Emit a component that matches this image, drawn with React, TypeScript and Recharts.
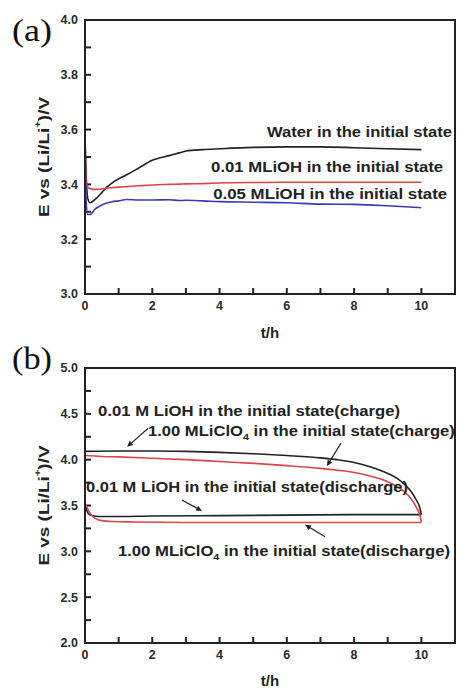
import React from "react";
import {
  LineChart,
  Line,
  XAxis,
  YAxis,
  ReferenceArea,
  ReferenceDot,
  ReferenceLine,
  Label,
} from "recharts";

// ---------- Panel (a) data ----------
const tA = [0, 0.03, 0.08, 0.15, 0.3, 0.5, 0.64, 0.8, 1.0, 1.24, 1.6, 2.0, 2.5, 2.8, 3.0, 3.5, 4, 5, 6, 7, 8, 9, 10];
const waterA = [3.58, 3.45, 3.35, 3.333, 3.345, 3.37, 3.389, 3.405, 3.42, 3.435, 3.46, 3.488, 3.505, 3.515, 3.522, 3.527, 3.53, 3.535, 3.537, 3.537, 3.534, 3.53, 3.527];
const lioh001A = [3.575, 3.42, 3.39, 3.385, 3.382, 3.383, 3.386, 3.388, 3.39, 3.392, 3.395, 3.398, 3.4, 3.401, 3.402, 3.403, 3.405, 3.407, 3.408, 3.408, 3.408, 3.408, 3.408];
const lioh005A = [3.56, 3.35, 3.29, 3.29, 3.31, 3.325, 3.332, 3.337, 3.34, 3.345, 3.343, 3.343, 3.344, 3.341, 3.342, 3.34, 3.337, 3.335, 3.333, 3.328, 3.327, 3.322, 3.315];

// ---------- Panel (b) data ----------
const tChargeLiOH = [0, 1, 2, 3, 4, 5, 6, 7, 7.5, 8, 8.5, 9, 9.3, 9.5, 9.7, 9.85, 9.95, 10];
const eChargeLiOH = [4.09, 4.095, 4.095, 4.09, 4.08, 4.065, 4.045, 4.02, 4.0, 3.97, 3.92, 3.85, 3.79, 3.73, 3.65, 3.56, 3.48, 3.4];
const tDischargeLiOH = [0, 0.05, 0.1, 0.2, 0.4, 1, 2, 4, 6, 8, 10];
const eDischargeLiOH = [3.52, 3.45, 3.41, 3.39, 3.38, 3.38, 3.385, 3.39, 3.395, 3.4, 3.4];
const tChargeClO4 = [0, 0.5, 1, 2, 3, 4, 5, 6, 7, 7.5, 8, 8.5, 9, 9.3, 9.5, 9.7, 9.85, 9.95, 10];
const eChargeClO4 = [4.045, 4.035, 4.03, 4.015, 4.0, 3.98, 3.96, 3.935, 3.905, 3.885, 3.86, 3.82, 3.76, 3.7, 3.65, 3.57, 3.48, 3.4, 3.32];
const tDischargeClO4 = [0, 0.1, 0.2, 0.3, 0.5, 0.8, 1.5, 3, 6, 10];
const eDischargeClO4 = [3.53, 3.45, 3.39, 3.36, 3.335, 3.325, 3.32, 3.315, 3.315, 3.315];

// ---------- Axes ----------
const xTicks = [0, 1, 2, 3, 4, 5, 6, 7, 8, 9, 10];
const xTickLabels = ["0", "", "2", "", "4", "", "6", "", "8", "", "10"];
const yTicksA = [3.0, 3.1, 3.2, 3.3, 3.4, 3.5, 3.6, 3.7, 3.8, 3.9, 4.0];
const yTickLabelsA = ["3.0", "", "3.2", "", "3.4", "", "3.6", "", "3.8", "", "4.0"];
const yTicksB = [2.0, 2.25, 2.5, 2.75, 3.0, 3.25, 3.5, 3.75, 4.0, 4.25, 4.5, 4.75, 5.0];
const yTickLabelsB = ["2.0", "", "2.5", "", "3.0", "", "3.5", "", "4.0", "", "4.5", "", "5.0"];

// ---------- Annotations ----------
const annotationsA = [
  { text: "Water in the initial state", t: 5.41, E: 3.591, len: 185 },
  { text: "0.01 MLiOH in the initial state", t: 3.75, E: 3.4635, len: 232 },
  { text: "0.05 MLiOH in the initial state", t: 3.81, E: 3.365, len: 234 },
];
const annotationsB = [
  { text: "0.01 M LiOH in the initial state(charge)", t: 0.39, E: 4.534, len: 302 },
  { text: "1.00 MLiClO_4 in the initial state(charge)", t: 1.87, E: 4.316, len: 307 },
  { text: "0.01 M LiOH in the initial state(discharge)", t: 0.03, E: 3.705, len: 322 },
  { text: "1.00 MLiClO_4 in the initial state(discharge)", t: 0.98, E: 3.007, len: 332 },
];
const arrowsB = [
  { from: [1.87, 4.34], to: [1.25, 4.14] },
  { from: [7.61, 4.18], to: [7.19, 3.93] },
  { from: [2.88, 3.56], to: [3.48, 3.44] },
  { from: [7.14, 3.16], to: [6.54, 3.29] },
];

const FONT = '"Liberation Sans", Arial, sans-serif';
const INK = "#222";
const RED = "#dd4448";
const BLUE = "#3a3ab8";
const X_MAX = 11;
const TICK_PX = 5;

const toPoints = (ts: number[], es: number[]) => ts.map((t, i) => ({ t, E: es[i] }));

const renderParts = (text: string) => {
  const segs = text.split("_4");
  const out: any[] = [];
  segs.forEach((s, i) => {
    out.push(<tspan key={"s" + i} dy={i > 0 ? -4 : 0}>{s}</tspan>);
    if (i < segs.length - 1) {
      out.push(
        <tspan key={"sub" + i} dy={4} fontSize={9}>
          4
        </tspan>
      );
    }
  });
  return out;
};

const makeTextShape = (text: string, len: number) => (props: any) => {
  const { cx, cy } = props;
  if (cx == null || cy == null) return null;
  return (
    <text
      x={cx}
      y={cy + 5}
      fill={INK}
      fontFamily={FONT}
      fontWeight="bold"
      fontSize={14}
      textLength={len}
      lengthAdjust="spacingAndGlyphs"
    >
      {renderParts(text)}
    </text>
  );
};

const ArrowShape = (p: any) => {
  const { x1, y1, x2, y2 } = p;
  if ([x1, y1, x2, y2].some((v) => v == null || isNaN(v))) return null;
  const ang = Math.atan2(y2 - y1, x2 - x1);
  const L = 6;
  const W = 2.8;
  const c = Math.cos(ang);
  const s = Math.sin(ang);
  const bx = x2 - L * c;
  const by = y2 - L * s;
  return (
    <g>
      <line x1={x1} y1={y1} x2={bx} y2={by} stroke={INK} strokeWidth={1.2} />
      <polygon
        points={`${x2},${y2} ${bx + W * s},${by - W * c} ${bx - W * s},${by + W * c}`}
        fill={INK}
      />
    </g>
  );
};

// Tick marks: a short stub (as a thin filled rectangle) at the axis end of each tick's reference line
const XTickStub = (p: any) => {
  const { x1, y1, x2, y2 } = p;
  if ([x1, y1, x2, y2].some((v) => v == null || isNaN(v))) return null;
  const yb = Math.max(y1, y2);
  return <rect x={x1 - 1} y={yb - TICK_PX - 1} width={2} height={TICK_PX + 1} fill={INK} />;
};
const YTickStub = (p: any) => {
  const { x1, y1, x2, y2 } = p;
  if ([x1, y1, x2, y2].some((v) => v == null || isNaN(v))) return null;
  const xl = Math.min(x1, x2);
  return <rect x={xl} y={y1 - 1} width={TICK_PX + 1} height={2} fill={INK} />;
};

const tickStyle = { fill: "#2a2a2a", fontSize: 12.5, fontWeight: "bold", fontFamily: FONT };

const YTitle = (props: any) => {
  const vb = props.viewBox || {};
  const cx = (vb.x ?? 0) + 43;
  const cy = (vb.y ?? 0) + (vb.height ?? 0) / 2;
  return (
    <text
      transform={`translate(${cx},${cy}) rotate(-90)`}
      x={0}
      y={0}
      textAnchor="middle"
      dominantBaseline="central"
      fill={INK}
      fontFamily={FONT}
      fontWeight="bold"
      fontSize={15}
      textLength={120}
      lengthAdjust="spacingAndGlyphs"
    >
      <tspan>E vs (Li/Li</tspan>
      <tspan dy={-5} fontSize={9}>+</tspan>
      <tspan dy={5}>)/V</tspan>
    </text>
  );
};

const makeXTitle = (offset: number) => (props: any) => {
  const vb = props.viewBox || {};
  const cx = (vb.x ?? 0) + (vb.width ?? 0) / 2;
  const cy = (vb.y ?? 0) + offset;
  return (
    <text
      x={cx}
      y={cy}
      textAnchor="middle"
      dominantBaseline="central"
      fill={INK}
      fontFamily={FONT}
      fontWeight="bold"
      fontSize={15}
    >
      t/h
    </text>
  );
};

const PanelWrap = (props: any) => {
  const { height, top, axisH, xTitleOffset, yDomain, yTicks, yTickLabels, series, annotations, arrows } = props;
  return (
    <LineChart width={457} height={height} margin={{ top, right: 2, bottom: 0, left: 0 }}>
      <XAxis
        type="number"
        dataKey="t"
        domain={[0, X_MAX]}
        allowDataOverflow
        ticks={xTicks}
        interval={0}
        tickFormatter={(v: any, i: number) => xTickLabels[i] ?? ""}
        tickSize={0}
        tickMargin={7}
        tickLine={false}
        height={axisH}
        axisLine={{ stroke: INK, strokeWidth: 2 }}
        tick={tickStyle}
      >
        <Label content={makeXTitle(xTitleOffset)} />
      </XAxis>
      <YAxis
        type="number"
        domain={yDomain}
        allowDataOverflow
        ticks={yTicks}
        interval={0}
        tickFormatter={(v: any, i: number) => yTickLabels[i] ?? ""}
        tickSize={0}
        tickMargin={7}
        tickLine={false}
        width={85}
        axisLine={{ stroke: INK, strokeWidth: 2 }}
        tick={tickStyle}
      >
        <Label content={YTitle} />
      </YAxis>
      <ReferenceArea
        x1={0}
        x2={X_MAX}
        y1={yDomain[0]}
        y2={yDomain[1]}
        fill="none"
        fillOpacity={0}
        stroke={INK}
        strokeWidth={2}
      />
      {xTicks.map((t: number) => (
        <ReferenceLine key={"xt" + t} x={t} shape={XTickStub} />
      ))}
      {yTicks.map((v: number) => (
        <ReferenceLine key={"yt" + v} y={v} shape={YTickStub} />
      ))}
      {series.map((s: any, i: number) => (
        <Line
          key={i}
          data={s.data}
          dataKey="E"
          type="monotone"
          dot={false}
          activeDot={false}
          stroke={s.color}
          strokeWidth={1.6}
          isAnimationActive={false}
        />
      ))}
      {annotations.map((a: any, i: number) => (
        <ReferenceDot key={"a" + i} x={a.t} y={a.E} r={0} shape={makeTextShape(a.text, a.len)} />
      ))}
      {arrows.map((a: any, i: number) => (
        <ReferenceLine
          key={"r" + i}
          segment={[
            { x: a.from[0], y: a.from[1] },
            { x: a.to[0], y: a.to[1] },
          ]}
          shape={ArrowShape}
        />
      ))}
    </LineChart>
  );
};

export default function App() {
  const seriesA = [
    { data: toPoints(tA, waterA), color: INK },
    { data: toPoints(tA, lioh001A), color: RED },
    { data: toPoints(tA, lioh005A), color: BLUE },
  ];
  const seriesB = [
    { data: toPoints(tChargeLiOH, eChargeLiOH), color: INK },
    { data: toPoints(tDischargeLiOH, eDischargeLiOH), color: INK },
    { data: toPoints(tChargeClO4, eChargeClO4), color: RED },
    { data: toPoints(tDischargeClO4, eDischargeClO4), color: RED },
  ];
  return (
    <div
      style={{
        position: "absolute",
        left: 0,
        top: 0,
        width: 457,
        height: 688,
        background: "#fff",
        overflow: "hidden",
      }}
    >
      <div style={{ position: "absolute", left: 0, top: 0 }}>
        <PanelWrap
          height={340}
          top={20}
          axisH={46}
          xTitleOffset={38}
          yDomain={[3, 4]}
          yTicks={yTicksA}
          yTickLabels={yTickLabelsA}
          series={seriesA}
          annotations={annotationsA}
          arrows={[]}
        />
      </div>
      <div style={{ position: "absolute", left: 0, top: 340 }}>
        <PanelWrap
          height={348}
          top={28}
          axisH={45}
          xTitleOffset={37}
          yDomain={[2, 5]}
          yTicks={yTicksB}
          yTickLabels={yTickLabelsB}
          series={seriesB}
          annotations={annotationsB}
          arrows={arrowsB}
        />
      </div>
      <svg
        width={457}
        height={688}
        style={{ position: "absolute", left: 0, top: 0, pointerEvents: "none" }}
      >
        <text
          x={12}
          y={41}
          fontFamily='"Liberation Serif", "Times New Roman", serif'
          fontSize={32}
          fill="#111"
          textLength={40}
          lengthAdjust="spacingAndGlyphs"
        >
          (a)
        </text>
        <text
          x={12}
          y={369}
          fontFamily='"Liberation Serif", "Times New Roman", serif'
          fontSize={32}
          fill="#111"
          textLength={40}
          lengthAdjust="spacingAndGlyphs"
        >
          (b)
        </text>
      </svg>
    </div>
  );
}
